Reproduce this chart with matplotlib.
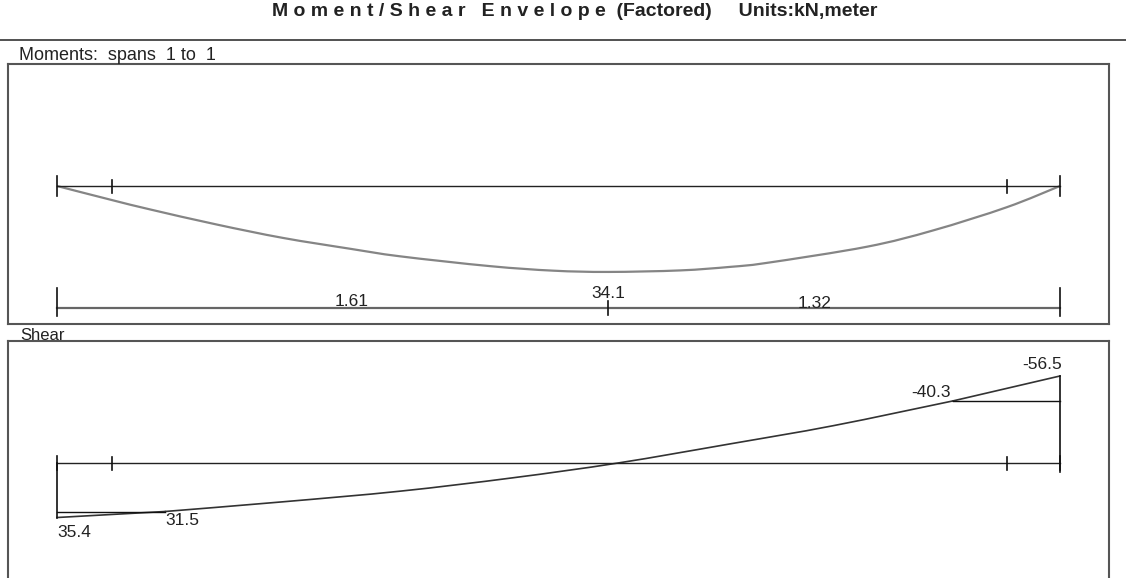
import matplotlib
matplotlib.use('Agg')
import matplotlib.pyplot as plt
from matplotlib.lines import Line2D
from matplotlib.path import Path
from matplotlib.patches import PathPatch

# span data (m), supports faces
span = 2.93
faces = [0.161, 2.775]
dims = [1.61, 1.32]

# moment envelope (kN.m)
mom_x = [0, 0.161, 0.272, 0.467, 0.660, 0.856, 1.002, 1.265, 1.45, 1.61, 1.82, 1.966, 2.074, 2.366, 2.56, 2.775, 2.93]
mom_v = [0, 5.6, 9.3, 15.3, 20.6, 24.9, 27.9, 31.8, 33.6, 34.1, 33.5, 32.1, 30.5, 24.1, 17.6, 8.4, 0]
mom_max_x, mom_max = 1.61, 34.1

# shear envelope (kN)
shr_x = [0, 0.315, 0.66, 1.002, 1.332, 1.639, 1.966, 2.267, 2.617, 2.93]
shr_v = [35.4, 31.5, 25.2, 18.3, 9.6, 0, -12.4, -24.2, -40.3, -56.5]

W, H = 1126, 578
fig = plt.figure(figsize=(W / 100, H / 100), dpi=100)
fnt = ['Liberation Sans', 'DejaVu Sans']


def rect(l, t, r, b):
    return [l / W, 1 - b / H, (r - l) / W, (b - t) / H]


PX_M = (1060 - 57) / span
xlim = (-(57 - 8) / PX_M, span + (1109 - 1060) / PX_M)
MS = 2.52   # px per kN.m
SS = 1.54   # px per kN


def smooth(ax, xs, ys, **kw):
    # catmull-rom style bezier through the read points
    pts = list(zip(xs, ys))
    verts = [pts[0]]
    codes = [Path.MOVETO]
    n = len(pts)
    for i in range(n - 1):
        p0 = pts[max(i - 1, 0)]
        p1 = pts[i]
        p2 = pts[i + 1]
        p3 = pts[min(i + 2, n - 1)]
        c1 = (p1[0] + (p2[0] - p0[0]) / 6, p1[1] + (p2[1] - p0[1]) / 6)
        c2 = (p2[0] - (p3[0] - p1[0]) / 6, p2[1] - (p3[1] - p1[1]) / 6)
        verts += [c1, c2, p2]
        codes += [Path.CURVE4] * 3
    ax.add_patch(PathPatch(Path(verts, codes), fill=False, **kw))


def frame(ax):
    ax.set_xticks([])
    ax.set_yticks([])
    for s in ax.spines.values():
        s.set_color('#555555')
        s.set_linewidth(1.5)


def beam(ax, scale, big):
    ax.plot([0, span], [0, 0], color='#222222', lw=1)
    for x in faces:
        ax.plot([x, x], [-6 / scale, 7 / scale], color='#111111', lw=1.2)
    for x in [0, span]:
        ax.plot([x, x], [-big / scale, big / scale], color='#111111', lw=1.2)


lab = dict(fontsize=12.5, family=fnt, color='#222222')

# ---- moments
ax_m = fig.add_axes(rect(8, 64, 1109, 324))
ax_m.set_xlim(*xlim)
ax_m.set_ylim((324 - 186) / MS, -(186 - 64) / MS)
frame(ax_m)
beam(ax_m, MS, 10)
smooth(ax_m, mom_x, mom_v, edgecolor='#858585', lw=1.6)

yd = (308 - 186) / MS
ax_m.plot([0, span], [yd, yd], color='#666666', lw=1.6)
for x in [0, span]:
    ax_m.plot([x, x], [yd - 20 / MS, yd + 8 / MS], color='#111111', lw=1.2)
ax_m.plot([mom_max_x, mom_max_x], [yd - 7 / MS, yd + 7 / MS], color='#111111', lw=1.2)
ax_m.annotate(f'{mom_max:.1f}', (mom_max_x, yd), xytext=(0, 15), textcoords='offset pixels',
              ha='center', va='center', **lab)
ax_m.text((352 - 57) / PX_M, yd - 6 / MS, f'{dims[0]:.2f}', ha='center', va='center', **lab)
ax_m.text((815 - 57) / PX_M, yd - 5 / MS, f'{dims[1]:.2f}', ha='center', va='center', **lab)

# ---- shear
ax_s = fig.add_axes(rect(8, 341, 1109, 600))
ax_s.set_xlim(*xlim)
ax_s.set_ylim((600 - 463) / SS, -(463 - 341) / SS)
frame(ax_s)
ax_s.spines['bottom'].set_visible(False)
beam(ax_s, SS, 7)
ax_s.plot(shr_x[:2], shr_v[:2], color='#333333', lw=1.2)
smooth(ax_s, shr_x[1:-1], shr_v[1:-1], edgecolor='#333333', lw=1.2)
ax_s.plot(shr_x[-2:], shr_v[-2:], color='#333333', lw=1.2)
ax_s.plot([0, 0], [0, shr_v[0]], color='#111111', lw=1.2)
ax_s.plot([span, span], [9 / SS, shr_v[-1]], color='#111111', lw=1.2)
ax_s.plot([0, shr_x[1]], [shr_v[1], shr_v[1]], color='#111111', lw=1)
ax_s.plot([shr_x[-2], span], [shr_v[-2], shr_v[-2]], color='#111111', lw=1)

ax_s.annotate(f'{shr_v[0]:.1f}', (0, shr_v[0]), xytext=(0, -15), textcoords='offset pixels',
              ha='left', va='center', **lab)
ax_s.annotate(f'{shr_v[1]:.1f}', (shr_x[1], shr_v[1]), xytext=(1, -9), textcoords='offset pixels',
              ha='left', va='center', **lab)
ax_s.annotate(f'{shr_v[-2]:.1f}', (shr_x[-2], shr_v[-2]), xytext=(-2, 8), textcoords='offset pixels',
              ha='right', va='center', **lab)
ax_s.annotate(f'{shr_v[-1]:.1f}', (span, shr_v[-1]), xytext=(2, 11), textcoords='offset pixels',
              ha='right', va='center', **lab)

# ---- header
fig.add_artist(Line2D([0, 1], [1 - 40 / H] * 2, color='#333333', lw=1.2))
fig.text(575 / W, 1 - 11 / H,
         'M o m e n t / S h e a r   E n v e l o p e  (Factored)     Units:kN,meter',
         ha='center', va='center', fontsize=14, fontweight='bold', family=fnt, color='#222222')
fig.text(19 / W, 1 - 56 / H, 'Moments:  spans  1 to  1', ha='left', va='center',
         fontsize=13, family=fnt, color='#222222')
fig.text(20 / W, 1 - 335 / H, 'Shear', ha='left', va='center',
         fontsize=12, family=fnt, color='#222222')

fig.savefig('out.png', dpi=100, facecolor='white')
